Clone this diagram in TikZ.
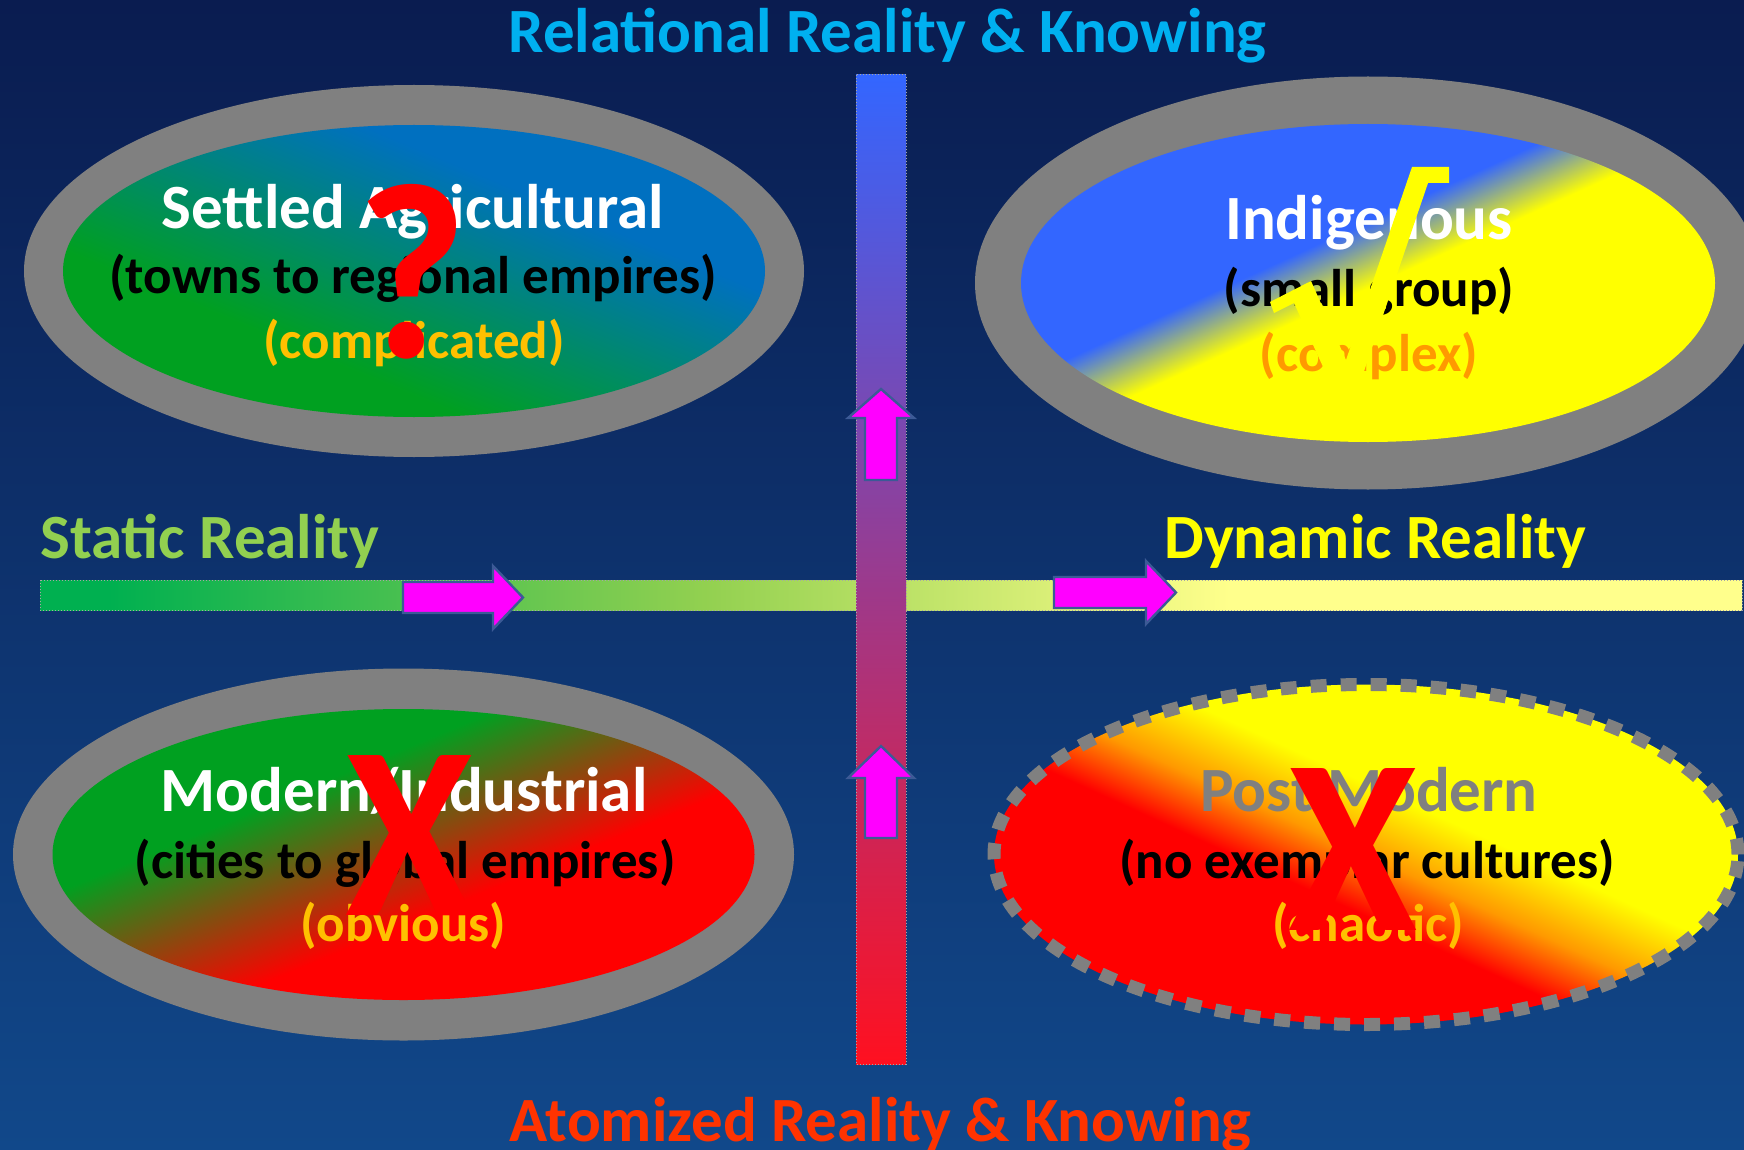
\documentclass[tikz,border=0pt]{standalone}
\usepackage{fontspec}
\setmainfont{Carlito}
\usepackage{graphicx}
\definecolor{bgA}{HTML}{0A1C50}
\definecolor{bgB}{HTML}{0C2B64}
\definecolor{bgC}{HTML}{11488A}
\definecolor{hgA}{HTML}{00B050}
\definecolor{hgB}{HTML}{92D050}
\definecolor{hgC}{HTML}{FFFF8C}
\definecolor{vbTop}{HTML}{3366FF}
\definecolor{vbMid}{HTML}{B24BC6}
\definecolor{vbBot}{HTML}{FF1020}
\definecolor{arrowfill}{HTML}{FF00FF}
\definecolor{arrowedge}{HTML}{3C5A96}
\definecolor{ringgray}{HTML}{808080}
\definecolor{tlgreen}{HTML}{00A020}
\definecolor{tlblue}{HTML}{0070C0}
\definecolor{trblue}{HTML}{3366FF}
\definecolor{tryellow}{HTML}{FFFF00}
\definecolor{blgreen}{HTML}{00A020}
\definecolor{blred}{HTML}{FF0000}
\definecolor{brred}{HTML}{FF0000}
\definecolor{brorange}{HTML}{FF9900}
\definecolor{bryellow}{HTML}{FFFF00}
\definecolor{titleblue}{HTML}{00B0F0}
\definecolor{atomred}{HTML}{FF3300}
\definecolor{staticgreen}{HTML}{92D050}
\definecolor{dynyellow}{HTML}{FFFF00}
\definecolor{gold}{HTML}{FFC000}
\definecolor{orangeC}{HTML}{FF9900}
\definecolor{postgray}{HTML}{808080}
\definecolor{checkyellow}{HTML}{FFFF00}
\definecolor{markred}{HTML}{FF0000}
\pgfdeclarehorizontalshading{hbarshade}{100bp}{color(0bp)=(hgA); color(27bp)=(hgA); color(44.5bp)=(hgB); color(60bp)=(hgC); color(100bp)=(hgC)}
\pgfdeclarehorizontalshading{tlshade}{100bp}{color(0bp)=(tlgreen); color(36bp)=(tlgreen); color(64bp)=(tlblue); color(100bp)=(tlblue)}
\pgfdeclarehorizontalshading{trshade}{100bp}{color(0bp)=(trblue); color(43.5bp)=(trblue); color(50.5bp)=(tryellow); color(100bp)=(tryellow)}
\pgfdeclarehorizontalshading{blshade}{100bp}{color(0bp)=(blgreen); color(38bp)=(blgreen); color(58bp)=(blred); color(100bp)=(blred)}
\pgfdeclarehorizontalshading{brshade}{100bp}{color(0bp)=(brred); color(44bp)=(brred); color(50bp)=(brorange); color(57bp)=(bryellow); color(100bp)=(bryellow)}
\begin{document}
\begin{tikzpicture}[x=0.5pt,y=-0.5pt,
  bigtxt/.style={font=\fontsize{31.5pt}{36pt}\selectfont\bfseries, inner sep=0pt, anchor=base},
  subtxt/.style={font=\fontsize{26.5pt}{30pt}\selectfont\bfseries, inner sep=0pt, anchor=base, text=black},
  arrowstyle/.style={fill=arrowfill, draw=arrowedge, line width=1.2pt, line join=miter},
  barstyle/.style={draw=gray!70, densely dotted, line width=0.5pt},
  redmark/.style={inner sep=0pt, text=markred, font=\bfseries}]
\useasboundingbox (0,0) rectangle (1744,1150);
% background
\shade[top color=bgA, middle color=bgB, bottom color=bgC] (0,0) rectangle (1744,1150);
% horizontal axis
\shadedraw[shading=hbarshade, barstyle] (40,580) rectangle (1742,610);
\filldraw[arrowstyle] (403,582) -- (493,582) -- (493,566) -- (523,597.5) -- (493,629) -- (493,613) -- (403,613) -- cycle;
\filldraw[arrowstyle] (1054,577) -- (1146,577) -- (1146,561) -- (1176,592.5) -- (1146,624) -- (1146,608) -- (1054,608) -- cycle;
% vertical axis
\shadedraw[top color=vbTop, middle color=vbMid, bottom color=vbBot, barstyle] (856,75) rectangle (906,1064);
\filldraw[arrowstyle] (865,480) -- (865,418) -- (848,418) -- (881,389) -- (914,418) -- (897,418) -- (897,480) -- cycle;
\filldraw[arrowstyle] (865,838) -- (865,778) -- (848,778) -- (881,746) -- (914,778) -- (897,778) -- (897,838) -- cycle;
% ellipses
\fill[ringgray] (414,271) ellipse [x radius=195pt, y radius=93pt];
\shade[shading=tlshade, shading angle=67.4] (414,271) ellipse [x radius=175.5pt, y radius=73pt];
\fill[ringgray] (1368,283) ellipse [x radius=196.5pt, y radius=103.25pt];
\shade[shading=trshade, shading angle=-65.4] (1368,283) ellipse [x radius=173.5pt, y radius=79.5pt];
\fill[ringgray] (403.5,854.5) ellipse [x radius=195.25pt, y radius=93pt];
\shade[shading=blshade, shading angle=-67.5] (403.5,854.5) ellipse [x radius=175.5pt, y radius=72.75pt];
\shade[shading=brshade, shading angle=65.4] (1366,854.5) ellipse [x radius=186pt, y radius=85pt];
\draw[ringgray, line width=6.5pt, dash pattern=on 8pt off 7pt] (1366,854.5) ellipse [x radius=186pt, y radius=85pt];
% axis labels
\node[bigtxt, text=titleblue] (toplabel) at (887.5,53) {Relational Reality \& Knowing};
\node[bigtxt, text=atomred] (bottomlabel) at (880.5,1141.7) {Atomized Reality \& Knowing};
\node[bigtxt, text=staticgreen, anchor=base west] (staticlabel) at (40,558) {Static Reality};
\node[bigtxt, text=dynyellow, anchor=base west] (dynamiclabel) at (1164,558) {Dynamic Reality};
% quadrant texts
\node[bigtxt, text=white] (sa1) at (413,228) {Settled Agricultural};
\node[subtxt] (sa2) at (413,293) {(towns to regional empires)};
\node[subtxt, text=gold] (sa3) at (414,358) {(complicated)};
\node[bigtxt, text=white] (in1) at (1369,240) {Indigenous};
\node[subtxt] (in2) at (1369,306.7) {(small group)};
\node[subtxt, text=orangeC] (in3) at (1369,371.7) {(complex)};
\node[bigtxt, text=white] (mo1) at (404,811.7) {Modern/Industrial};
\node[subtxt] (mo2) at (405,878) {(cities to global empires)};
\node[subtxt, text=gold] (mo3) at (403.5,941.7) {(obvious)};
\node[bigtxt, text=postgray] (pm1) at (1369,811.7) {Post Modern};
\node[subtxt] (pm2) at (1367,878) {(no exemplar cultures)};
\node[subtxt, text=gold] (pm3) at (1368,941.7) {(chaotic)};
% marks
\node[redmark] (qmark) at (412.5,271.5) {\resizebox{55.5pt}{86.5pt}{?}};
\node[redmark] (xmarkA) at (409,835) {\resizebox{64pt}{80pt}{X}};
\node[redmark] (xmarkB) at (1352.5,849) {\resizebox{64.5pt}{81pt}{X}};
\fill[checkyellow] (1270,302) -- (1311,281) -- (1346,360) -- (1412,167) -- (1449,167) -- (1449,183) -- (1428,183) -- (1361,380) -- (1329,380) -- (1294,303) -- (1274,313) -- cycle;
\end{tikzpicture}
\end{document}
